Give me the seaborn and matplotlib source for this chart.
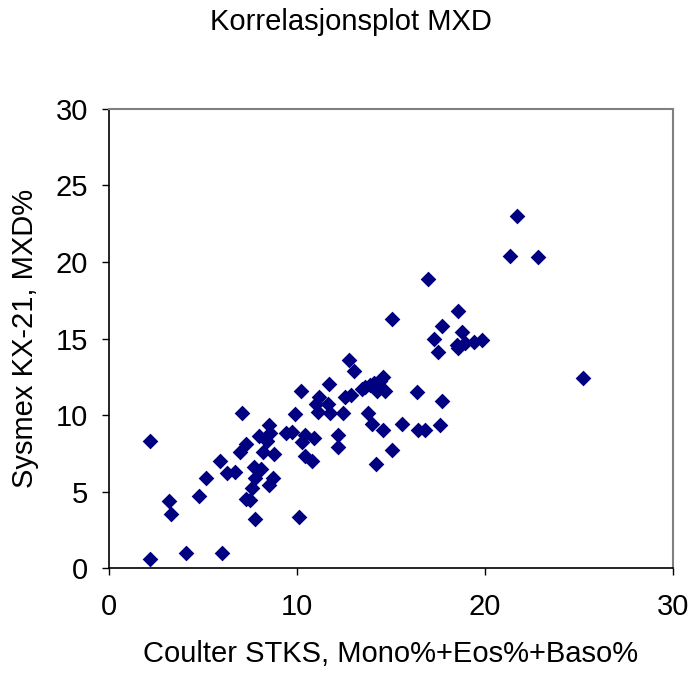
import pandas as pd
import matplotlib
matplotlib.use("Agg")
import matplotlib.pyplot as plt
import seaborn as sns

# Coulter STKS (Mono%+Eos%+Baso%) vs Sysmex KX-21 MXD%
coulter = [
    2.2, 2.2, 3.2, 3.3, 4.1, 6.0, 4.8, 5.2, 5.9, 6.3, 6.7, 7.1, 7.0, 7.3,
    7.3, 7.5, 7.8, 7.7, 8.1, 7.8, 7.6, 8.0, 8.4, 8.5, 8.6, 8.2, 8.8, 8.75,
    8.5, 9.45, 9.9, 10.1, 10.2, 9.75, 10.45, 10.9, 10.3, 10.45, 10.8,
    11.7, 11.2, 11.0, 11.65, 11.15, 11.75, 12.55, 12.9, 12.45, 12.2, 12.2,
    12.8, 13.05, 13.45, 13.65, 13.9, 14.1, 14.45, 14.6, 14.25, 14.7,
    13.8, 14.0, 14.6, 15.05, 14.2, 15.6, 16.4, 16.45, 16.8, 17.6, 17.7,
    15.05, 17.0, 18.55, 17.7, 17.3, 17.5, 18.8, 18.5, 18.95, 19.4, 19.85,
    18.6, 21.7, 21.35, 22.85, 25.2,
]
sysmex = [
    0.6, 8.3, 4.4, 3.5, 1.0, 1.0, 4.7, 5.9, 7.0, 6.2, 6.3, 10.1, 7.6, 8.1,
    4.5, 4.45, 3.2, 6.6, 6.5, 5.9, 5.2, 8.6, 8.3, 9.35, 8.8, 7.55, 7.45, 5.9,
    5.4, 8.85, 10.05, 3.35, 11.6, 8.9, 8.7, 8.5, 8.25, 7.35, 7.0,
    12.0, 11.2, 10.75, 10.75, 10.2, 10.1, 11.2, 11.3, 10.1, 8.7, 7.9,
    13.6, 12.9, 11.7, 11.85, 11.95, 12.1, 12.2, 12.5, 11.6, 11.6,
    10.1, 9.4, 9.0, 7.7, 6.8, 9.4, 11.5, 9.05, 9.0, 9.35, 10.9,
    16.3, 18.9, 16.8, 15.8, 15.0, 14.1, 15.4, 14.6, 14.7, 14.8, 14.9,
    14.4, 23.0, 20.4, 20.3, 12.4,
]
ticks_x = [0, 10, 20, 30]
ticks_y = [0, 5, 10, 15, 20, 25, 30]

df = pd.DataFrame({"Coulter": coulter, "Sysmex": sysmex})

sns.set_style("ticks")
plt.rcParams["font.family"] = ["Liberation Sans", "DejaVu Sans"]
plt.rcParams["text.color"] = "black"
plt.rcParams["axes.labelcolor"] = "black"
plt.rcParams["xtick.color"] = "black"
plt.rcParams["ytick.color"] = "black"

fig = plt.figure(figsize=(6.88, 6.77), dpi=100)
ax = fig.add_axes([0.158, 0.161, 0.820, 0.678])

sns.scatterplot(data=df, x="Coulter", y="Sysmex", marker="D", color="#000080",
                s=64, linewidth=0, ax=ax)

ax.set_xlim(0, 30)
ax.set_ylim(0, 30)
ax.set_xticks(ticks_x)
ax.set_yticks(ticks_y)
ax.tick_params(axis="both", labelsize=21, length=5, width=1,
               color="black", labelcolor="black")
ax.tick_params(axis="x", pad=13)
ax.tick_params(axis="y", pad=10)

for side in ["top", "right"]:
    ax.spines[side].set_color("#808080")
    ax.spines[side].set_linewidth(1.5)
for side in ["left", "bottom"]:
    ax.spines[side].set_color("black")
    ax.spines[side].set_linewidth(1.2)

ax.set_xlabel("Coulter STKS, Mono%+Eos%+Baso%", fontsize=21, labelpad=14,
              color="black")
ax.set_ylabel("Sysmex KX-21, MXD%", fontsize=21, labelpad=12, color="black")
fig.text(0.51, 0.967, "Korrelasjonsplot MXD", fontsize=21, ha="center",
         va="center", color="black")

fig.savefig("out.png", dpi=100)
